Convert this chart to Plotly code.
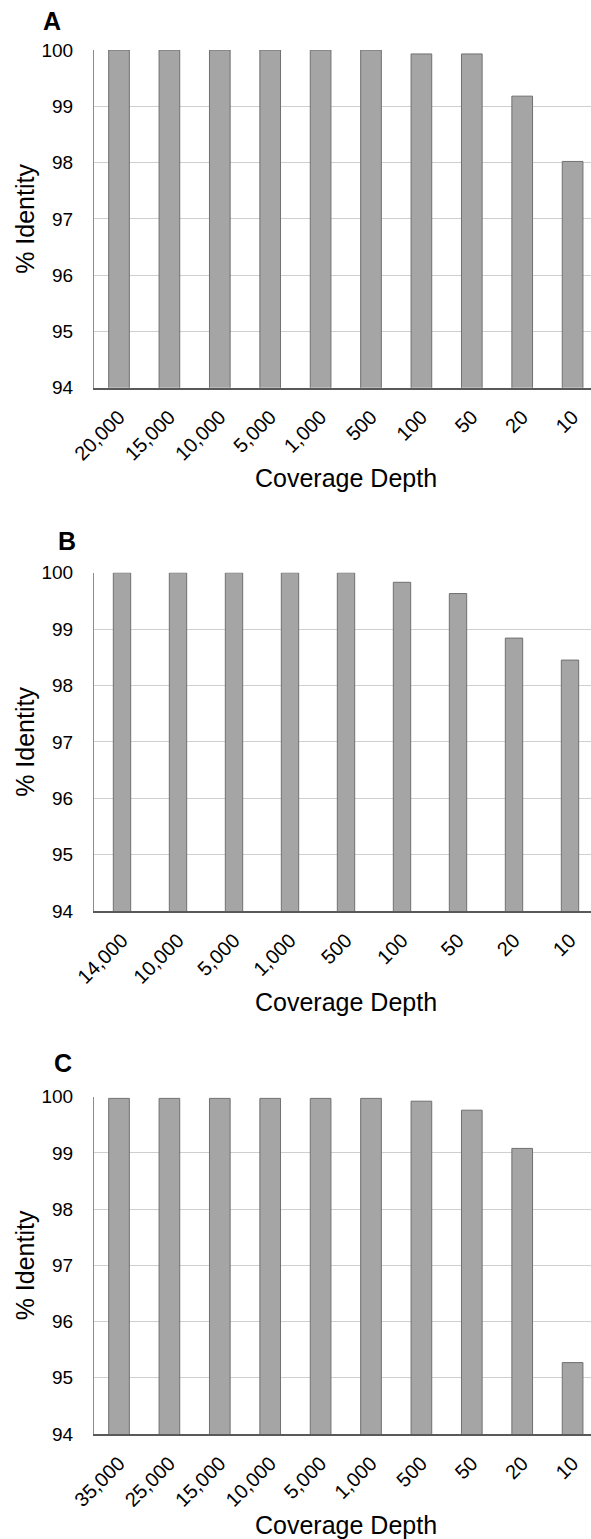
import plotly.graph_objects as go

# ---- data ----
cats_a = ["20,000", "15,000", "10,000", "5,000", "1,000", "500", "100", "50", "20", "10"]
vals_a = [100, 100, 100, 100, 100, 100, 99.93, 99.93, 99.18, 98.02]

cats_b = ["14,000", "10,000", "5,000", "1,000", "500", "100", "50", "20", "10"]
vals_b = [100, 100, 100, 100, 100, 99.83, 99.63, 98.84, 98.45]

cats_c = ["35,000", "25,000", "15,000", "10,000", "5,000", "1,000", "500", "50", "20", "10"]
vals_c = [99.97, 99.97, 99.97, 99.97, 99.97, 99.97, 99.92, 99.76, 99.08, 95.27]

y_ticks = [94, 95, 96, 97, 98, 99, 100]
panel_labels = ["A", "B", "C"]

W, H = 591, 1539
FONT = "Liberation Sans, Arial, sans-serif"
BAR_FILL = "#a5a5a5"
BAR_LINE = "#707070"
GRID = "#cfcfcf"

# pixel geometry (top, bottom) of each plot area
panels = [
    (cats_a, vals_a, 0.41, 50.0, 387.7, [-0.496, 9.365]),
    (cats_b, vals_b, 0.31, 572.7, 911.0, [-0.5, 8.375]),
    (cats_c, vals_c, 0.41, 1096.7, 1434.0, [-0.496, 9.365]),
]
title_pos = [(52, 21), (67, 541), (63, 1063)]
xleft = 94.0

fig = go.Figure()
layout = dict(
    width=W, height=H,
    margin=dict(l=0, r=0, t=0, b=0, autoexpand=False),
    paper_bgcolor="white", plot_bgcolor="white",
    showlegend=False,
    font=dict(family=FONT, color="#000000"),
    bargap=0.5,
)
annotations = []

for i, (cats, vals, bw, top, bot, xr) in enumerate(panels):
    n = "" if i == 0 else str(i + 1)
    fig.add_trace(go.Bar(
        x=cats, y=vals, width=bw,
        marker=dict(color=BAR_FILL, line=dict(color=BAR_LINE, width=1)),
        xaxis="x" + n, yaxis="y" + n,
        hoverinfo="x+y",
    ))
    dom_y = [1 - bot / H, 1 - top / H]
    layout["xaxis" + n] = dict(
        domain=[xleft / W, 1.0], anchor="y" + n,
        type="category", range=xr, automargin=False,
        tickangle=-45, tickfont=dict(size=20, family=FONT, color="#000"),
        showline=True, linecolor="#595959", linewidth=1.5,
        showgrid=False, ticks="", ticklabelstandoff=8,
        fixedrange=True,
    )
    layout["yaxis" + n] = dict(
        domain=dom_y, anchor="x" + n, automargin=False,
        range=[94, 100], tickvals=y_ticks,
        tickfont=dict(size=19, family=FONT, color="#000"),
        showgrid=True, gridcolor=GRID, gridwidth=1.2,
        showline=True, linecolor="#8c8c8c", linewidth=1,
        ticks="", ticklabelstandoff=16, zeroline=False,
        fixedrange=True,
    )
    tx, ty = title_pos[i]
    annotations.append(dict(
        text="<b>%s</b>" % panel_labels[i], x=tx / W, y=1 - ty / H,
        xref="paper", yref="paper", showarrow=False,
        xanchor="center", yanchor="middle",
        font=dict(size=25, family=FONT, color="#000"),
    ))
    annotations.append(dict(
        text="% Identity", x=25 / W, y=1 - ((top + bot) / 2) / H,
        xref="paper", yref="paper", showarrow=False, textangle=-90,
        xanchor="center", yanchor="middle",
        font=dict(size=25, family=FONT, color="#000"),
    ))
    annotations.append(dict(
        text="Coverage Depth", x=346 / W, y=1 - (bot + 90.5) / H,
        xref="paper", yref="paper", showarrow=False,
        xanchor="center", yanchor="middle",
        font=dict(size=25, family=FONT, color="#000"),
    ))

layout["annotations"] = annotations
fig.update_layout(**layout)
fig.write_html(
    "out.html",
    config={"displayModeBar": False},
    post_script="document.body.style.margin='0';document.body.style.overflow='hidden';",
)
